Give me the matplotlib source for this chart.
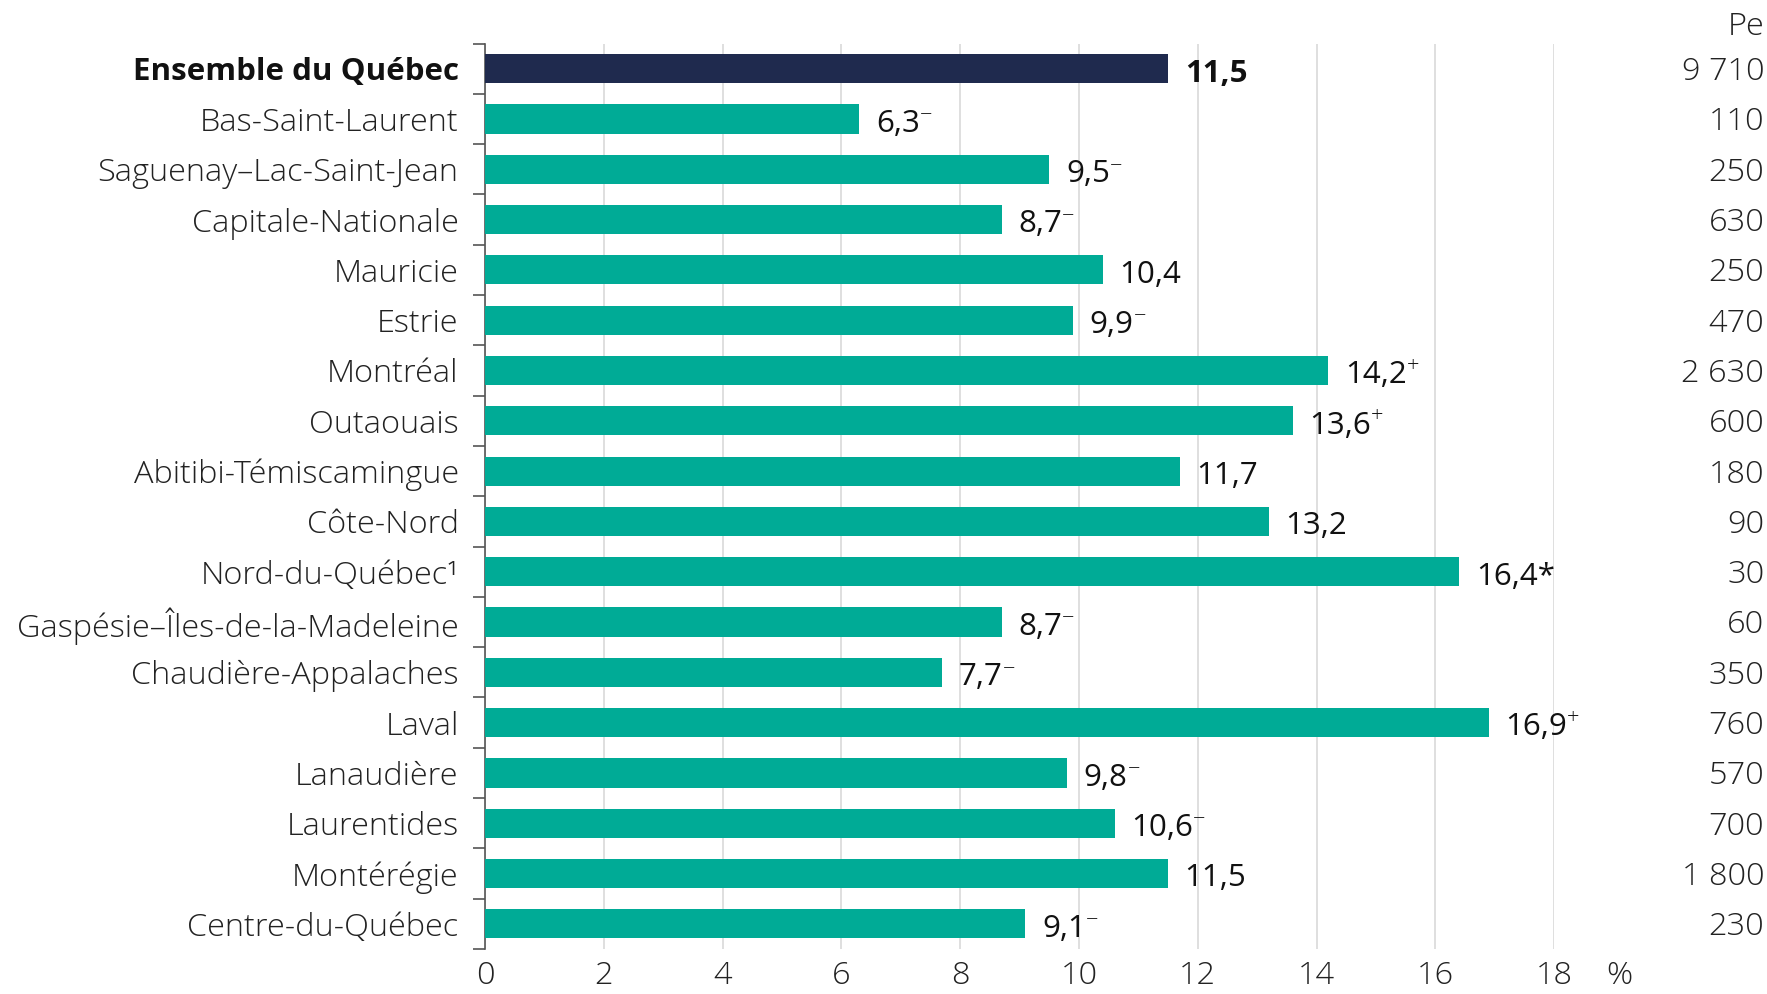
"""Barres horizontales : proportion par région sociosanitaire (%)."""

import matplotlib

matplotlib.use("Agg")
import matplotlib.pyplot as plt
from matplotlib.ticker import FixedLocator

plt.rcParams["font.family"] = ["Open Sans", "DejaVu Sans"]
plt.rcParams["font.weight"] = "light"

regions = [
    "Ensemble du Québec", "Bas-Saint-Laurent", "Saguenay–Lac-Saint-Jean",
    "Capitale-Nationale", "Mauricie", "Estrie", "Montréal", "Outaouais",
    "Abitibi-Témiscamingue", "Côte-Nord", "Nord-du-Québec¹",
    "Gaspésie–Îles-de-la-Madeleine", "Chaudière-Appalaches", "Laval",
    "Lanaudière", "Laurentides", "Montérégie", "Centre-du-Québec",
]
values = [11.5, 6.3, 9.5, 8.7, 10.4, 9.9, 14.2, 13.6, 11.7, 13.2, 16.4,
          8.7, 7.7, 16.9, 9.8, 10.6, 11.5, 9.1]
value_labels = ["11,5", "6,3", "9,5", "8,7", "10,4", "9,9", "14,2", "13,6",
                "11,7", "13,2", "16,4*", "8,7", "7,7", "16,9", "9,8", "10,6",
                "11,5", "9,1"]
# signe en exposant : − inférieur, + supérieur à l'ensemble du Québec
marks = ["", "−", "−", "−", "", "−", "+", "+", "", "", "", "−", "−", "+",
         "−", "−", "", "−"]
persons = ["9 710", "110", "250", "630", "250", "470", "2 630", "600", "180",
           "90", "30", "60", "350", "760", "570", "700", "1 800", "230"]
xticks = [0, 2, 4, 6, 8, 10, 12, 14, 16, 18]

TEAL = "#00ab96"
NAVY = "#1f2a4e"
TEXT = "#222222"
FS = 23.4      # textes en Open Sans Light
FS_VAL = 22.5  # étiquettes de valeurs

fig = plt.figure(figsize=(17.67, 9.94), dpi=100)
ax = fig.add_axes([0.2745, 0.0453, 0.8795 - 0.2745, 0.9562 - 0.0453])

ypos = list(range(len(regions)))
colors = [NAVY] + [TEAL] * (len(regions) - 1)
ax.barh(ypos, values, height=0.58, color=colors, zorder=3)

ax.set_xlim(0, 18)
ax.set_ylim(len(regions) - 0.5, -0.5)
ax.set_xticks(xticks)
ax.set_xticklabels([str(t) for t in xticks])
ax.grid(axis="x", color="#d9d9d9", linewidth=1.2, zorder=0)
ax.tick_params(axis="x", length=0, pad=8, labelsize=FS, labelcolor=TEXT)

ax.set_yticks(ypos)
ax.set_yticklabels(regions)
ax.yaxis.set_minor_locator(FixedLocator([i - 0.5 for i in range(len(regions) + 1)]))
ax.tick_params(axis="y", which="major", length=0, pad=19, labelsize=FS,
               labelcolor=TEXT)
ax.tick_params(axis="y", which="minor", length=9, width=1.2, color="#555555")
ax.get_yticklabels()[0].set_fontweight("bold")
ax.get_yticklabels()[0].set_fontsize(FS_VAL)
ax.get_yticklabels()[0].set_color("#111111")

for side in ("top", "right", "bottom"):
    ax.spines[side].set_visible(False)
ax.spines["left"].set_color("#555555")
ax.spines["left"].set_linewidth(1.2)

for i, (v, lab, mk, n) in enumerate(zip(values, value_labels, marks, persons)):
    t = ax.annotate(lab, xy=(v, i), xytext=(12, -3.5), textcoords="offset points",
                    ha="left", va="center", fontsize=FS_VAL, color="#111111",
                    fontweight="bold" if i == 0 else "normal")
    if mk:
        ax.annotate(mk, xy=(1.0, 0.8), xycoords=t, ha="left", va="center",
                    fontsize=FS_VAL * 0.7, color="#111111")
    ax.annotate(n, xy=(1.1965, i), xycoords=ax.get_yaxis_transform(),
                xytext=(0, -2.5), textcoords="offset points", ha="right",
                va="center", fontsize=FS, color=TEXT, annotation_clip=False)

ax.annotate("%", xy=(19.1, 0), xycoords=ax.get_xaxis_transform(),
            xytext=(0, -8), textcoords="offset points", ha="center", va="top",
            fontsize=FS, color=TEXT, annotation_clip=False)
fig.text(1764 / 1767, 1 - 27 / 994, "Pe", ha="right", va="center",
         fontsize=FS, color=TEXT)

fig.savefig("out.png", dpi=100)
